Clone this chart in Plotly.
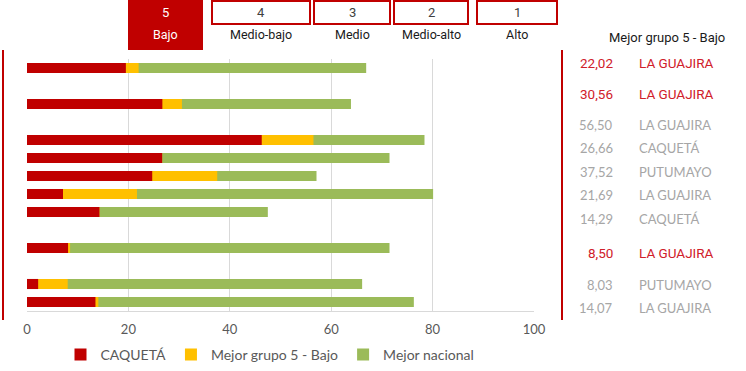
import plotly.graph_objects as go

# rows (top to bottom); gap_* entries are empty spacer rows
rows = ["r1", "gap_a", "r2", "gap_b", "r3", "r4", "r5", "r6", "r7", "gap_c", "r8", "gap_d", "r9", "r10"]
bar_rows = ["r1", "r2", "r3", "r4", "r5", "r6", "r7", "r8", "r9", "r10"]

caqueta = [19.5, 26.7, 46.3, 26.66, 24.7, 7.1, 14.29, 8.1, 2.2, 13.5]
mejor_grupo5 = [22.02, 30.56, 56.50, 26.66, 37.52, 21.69, 14.29, 8.50, 8.03, 14.07]
mejor_nacional = [66.9, 63.9, 78.4, 71.5, 57.1, 80.1, 47.5, 71.5, 66.1, 76.3]

# side table
tabla_valores = ["22,02", "30,56", "56,50", "26,66", "37,52", "21,69", "14,29", "8,50", "8,03", "14,07"]
tabla_depto = ["LA GUAJIRA", "LA GUAJIRA", "LA GUAJIRA", "CAQUETÁ", "PUTUMAYO",
               "LA GUAJIRA", "CAQUETÁ", "LA GUAJIRA", "PUTUMAYO", "LA GUAJIRA"]
tabla_destacado = [True, True, False, False, False, False, False, True, False, False]

grupos_num = ["5", "4", "3", "2", "1"]
grupos_nombre = ["Bajo", "Medio-bajo", "Medio", "Medio-alto", "Alto"]

RED = "#C00000"
NARROW = "Roboto, Liberation Sans, sans-serif"
W, H = 746, 371
L, R, T, B = 27, 534, 59, 311


def px(x):
    return (x - L) / (R - L)


def py(y):
    return (B - y) / (B - T)


def note(x, y, text, font, xanchor="center"):
    return dict(x=px(x), y=py(y), xref="paper", yref="paper", text=text, showarrow=False,
                xanchor=xanchor, yanchor="middle", font=font)


fig = go.Figure()
bar_w = 0.56
fig.add_trace(go.Bar(y=bar_rows, x=mejor_nacional, orientation="h", name="Mejor nacional",
                     marker=dict(color="#9BBB59", line=dict(width=0)), width=bar_w, legendrank=3))
fig.add_trace(go.Bar(y=bar_rows, x=mejor_grupo5, orientation="h", name="Mejor grupo 5 - Bajo",
                     marker=dict(color="#FFC000", line=dict(width=0)), width=bar_w, legendrank=2))
fig.add_trace(go.Bar(y=bar_rows, x=caqueta, orientation="h", name="CAQUETÁ",
                     marker=dict(color=RED, line=dict(width=0)), width=bar_w, legendrank=1))

shapes = []
annotations = []

# header boxes
box_px = [(128, 203), (212, 310), (314, 390), (394, 468), (477, 557)]
for i, (x0, x1) in enumerate(box_px):
    if i == 0:
        shapes.append(dict(type="rect", xref="paper", yref="paper", x0=px(x0), x1=px(x1),
                           y0=py(50), y1=py(0), fillcolor=RED, line=dict(width=0), layer="above"))
        col = "white"
    else:
        shapes.append(dict(type="rect", xref="paper", yref="paper", x0=px(x0), x1=px(x1),
                           y0=py(24), y1=py(1), fillcolor="white", line=dict(color=RED, width=2),
                           layer="above"))
        col = "#1a1a1a"
    cx = (x0 + x1) / 2
    annotations.append(note(cx, 13, grupos_num[i],
                            dict(size=13, color="white" if i == 0 else "#404040", family=NARROW)))
    annotations.append(note(cx, 35, grupos_nombre[i], dict(size=12.5, color=col, family=NARROW)))

# vertical red lines
for xl in (3, 562):
    shapes.append(dict(type="line", xref="paper", yref="paper", x0=px(xl), x1=px(xl),
                       y0=py(320), y1=py(50), line=dict(color=RED, width=2)))

# side table
annotations.append(note(667, 37, "Mejor grupo 5 - Bajo", dict(size=13, color="#1a1a1a", family=NARROW)))
tabla_y = [63, 94, 125, 148, 172, 195, 219, 253, 285, 308]
for v, d, hl, yy in zip(tabla_valores, tabla_depto, tabla_destacado, tabla_y):
    if hl:
        f = dict(size=13.5, color="#D0202A", family=NARROW)
    else:
        f = dict(size=13, color="#A6A6A6", family="Lato, sans-serif")
    annotations.append(note(615, yy, v, f, xanchor="right"))
    annotations.append(note(637, yy, d, f, xanchor="left"))

fig.update_layout(
    width=W, height=H,
    barmode="overlay",
    margin=dict(l=L, r=W - R, t=T, b=H - B, pad=0, autoexpand=False),
    plot_bgcolor="white", paper_bgcolor="white",
    font=dict(family="Lato, sans-serif", color="#595959"),
    xaxis=dict(range=[0, 100], dtick=20, showgrid=True, gridcolor="#D9D9D9", gridwidth=1,
               zeroline=False, showline=True, linecolor="#D9D9D9", ticks="",
               ticklabelstandoff=6, tickfont=dict(size=13, color="#595959"), fixedrange=True),
    yaxis=dict(type="category", categoryorder="array", categoryarray=rows,
               range=[len(rows) - 0.5, -0.5], showticklabels=False, showgrid=False,
               zeroline=False, showline=False, fixedrange=True),
    legend=dict(orientation="h", x=px(270), xanchor="center", y=py(355), yanchor="middle",
                font=dict(size=14, color="#595959"), itemwidth=30, traceorder="normal"),
    shapes=shapes,
    annotations=annotations,
)

# the page body has a default 8px margin; remove it so the figure sits at the corner
fig.write_html("out.html", config={"displayModeBar": False},
               post_script="document.body.style.margin='0';")
